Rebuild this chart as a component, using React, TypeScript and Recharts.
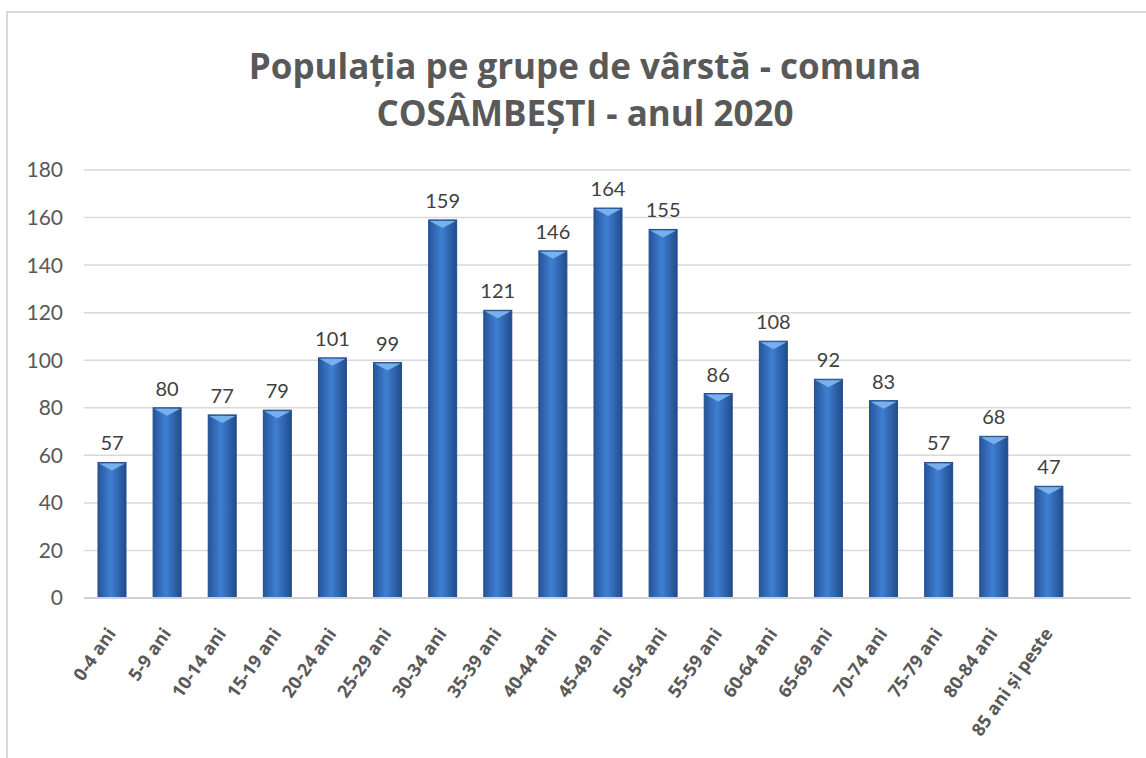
import { BarChart, Bar, XAxis, YAxis, CartesianGrid, LabelList } from "recharts";

const categories = [
  "0-4 ani",
  "5-9 ani",
  "10-14 ani",
  "15-19 ani",
  "20-24  ani",
  "25-29 ani",
  "30-34 ani",
  "35-39 ani",
  "40-44 ani",
  "45-49 ani",
  "50-54 ani",
  "55-59 ani",
  "60-64 ani",
  "65-69 ani",
  "70-74 ani",
  "75-79 ani",
  "80-84 ani",
  "85 ani și peste",
];

const population = [57, 80, 77, 79, 101, 99, 159, 121, 146, 164, 155, 86, 108, 92, 83, 57, 68, 47];

const yTicks = [0, 20, 40, 60, 80, 100, 120, 140, 160, 180];

const titleLines = ["Populația pe grupe de vârstă - comuna", "COSÂMBEȘTI - anul 2020"];

const data = categories.map((c, i) => ({ group: c, value: population[i] }));

const FONT = "Lato, 'Open Sans', sans-serif";

function CylinderBar(props: any) {
  const { x, y, width, height } = props;
  if (!height || height <= 0) return null;
  const tip = Math.min(8, height);
  return (
    <g>
      <rect x={x} y={y} width={width} height={height} fill="url(#barGrad)" />
      <rect x={x} y={y} width={width} height={height} fill="none" stroke="#234d8a" strokeWidth={1} />
      <polygon
        points={`${x + 1},${y + 1} ${x + width - 1},${y + 1} ${x + width / 2},${y + tip}`}
        fill="#78b0ee"
      />
    </g>
  );
}

function AgeTick(props: any) {
  const { x, y, payload } = props;
  return (
    <g transform={`translate(${x},${y + 24})`}>
      <text
        x={0}
        y={0}
        dy="0.35em"
        textAnchor="end"
        transform="rotate(-55)"
        fill="#595959"
        fontSize={18}
        fontWeight={700}
        fontFamily="'Open Sans', sans-serif"
      >
        {payload.value}
      </text>
    </g>
  );
}

export default function App() {
  return (
    <div
      style={{
        position: "absolute",
        left: 0,
        top: 0,
        width: 1146,
        height: 758,
        overflow: "hidden",
        background: "#fff",
      }}
    >
      <div
        style={{
          position: "absolute",
          left: 6,
          top: 11,
          width: 1170,
          height: 800,
          border: "2px solid #d9d9d9",
          boxSizing: "border-box",
        }}
      />
      <div
        style={{
          position: "absolute",
          left: 0,
          top: 42,
          width: 1170,
          textAlign: "center",
          fontFamily: "'Open Sans', sans-serif",
          fontWeight: 700,
          fontSize: 35,
          lineHeight: "47px",
          color: "#595959",
        }}
      >
        {titleLines.map((t) => (
          <div key={t}>{t}</div>
        ))}
      </div>
      <div style={{ position: "absolute", left: 0, top: 0 }}>
        <BarChart
          width={1146}
          height={758}
          data={data}
          margin={{ top: 170, right: 15, bottom: 20, left: 24 }}
          barCategoryGap={0}
        >
          <defs>
            <linearGradient id="barGrad" x1="0" y1="0" x2="1" y2="0">
              <stop offset="0%" stopColor="#27549a" />
              <stop offset="45%" stopColor="#3f7fd2" />
              <stop offset="100%" stopColor="#214c8c" />
            </linearGradient>
          </defs>
          <CartesianGrid vertical={false} stroke="#d9d9d9" strokeWidth={1.5} />
          <XAxis
            dataKey="group"
            interval={0}
            height={140}
            padding={{ left: 0, right: 55 }}
            axisLine={{ stroke: "#d0d0d0", strokeWidth: 2 }}
            tickLine={false}
            tick={<AgeTick />}
          />
          <YAxis
            width={60}
            domain={[0, 180]}
            ticks={yTicks}
            axisLine={false}
            tickLine={false}
            tickSize={0}
            tickMargin={21}
            tick={{ fill: "#595959", fontSize: 21, fontFamily: FONT }}
          />
          <Bar dataKey="value" barSize={28} shape={<CylinderBar />} isAnimationActive={false}>
            <LabelList
              dataKey="value"
              position="top"
              offset={12}
              fill="#404040"
              fontSize={20}
              fontFamily={FONT}
            />
          </Bar>
        </BarChart>
      </div>
    </div>
  );
}
